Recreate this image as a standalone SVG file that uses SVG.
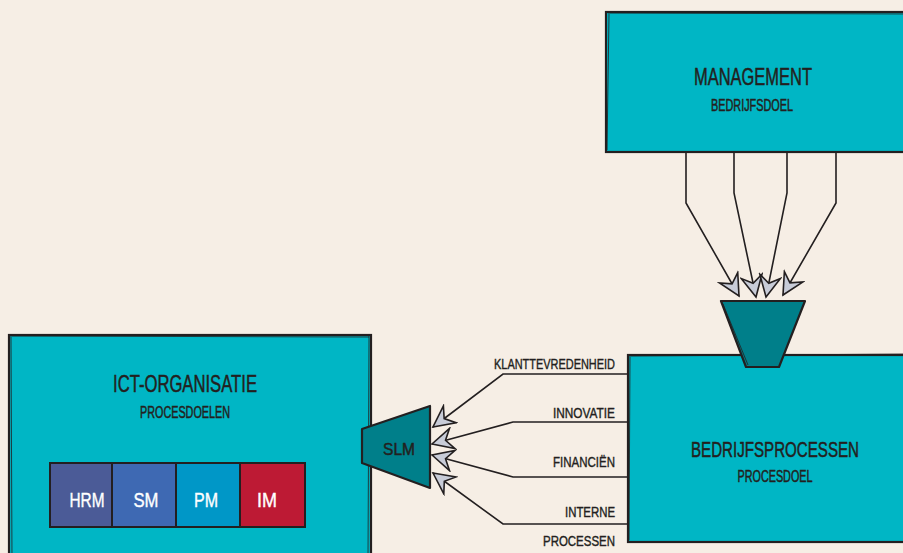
<svg xmlns="http://www.w3.org/2000/svg" width="903" height="553" viewBox="0 0 903 553">
<defs>
<style>
.box{fill:#00b6c5;stroke:#231f20;stroke-width:2.2}
.sk{fill:none;stroke:#231f20;stroke-width:1;opacity:.8}
.t{font-family:"Liberation Sans",Arial,sans-serif;fill:#231f20;stroke:#231f20;stroke-width:0.5;text-anchor:middle}
.w{font-family:"Liberation Sans",Arial,sans-serif;fill:#ffffff;stroke:#ffffff;stroke-width:0.4;text-anchor:middle}
.lbl{font-family:"Liberation Sans",Arial,sans-serif;fill:#231f20;stroke:#231f20;stroke-width:0.4;text-anchor:end;font-size:15px}
.con{fill:none;stroke:#231f20;stroke-width:1.6}
.funnel{fill:#007f8a;stroke:#231f20;stroke-width:2.2;stroke-linejoin:round}
</style>
<marker id="ah" markerUnits="userSpaceOnUse" viewBox="-23 -12 25 24" refX="0" refY="0" markerWidth="25" markerHeight="24" orient="auto">
<path d="M0,0 L-21,-10.5 L-14,0 L-21,10.5 Z" fill="#c8ccd8" stroke="#231f20" stroke-width="1.6" stroke-linejoin="miter"/>
</marker>
</defs>
<rect width="903" height="553" fill="#f6eee5"/>

<g id="management">
<rect class="box" x="606" y="12" width="310" height="140"/>
<path class="sk" d="M609,14 L607,150 M608,13 L910,14"/>
<text class="t" x="753" y="85" font-size="24" textLength="118" lengthAdjust="spacingAndGlyphs">MANAGEMENT</text>
<text class="t" x="752" y="111" font-size="16" textLength="82" lengthAdjust="spacingAndGlyphs">BEDRIJFSDOEL</text>
</g>

<g id="bedrijfsprocessen">
<rect class="box" x="628" y="355" width="290" height="187"/>
<path class="sk" d="M630,357 L629,540 M629,356 L910,354"/>
<text class="t" x="775" y="457" font-size="22" textLength="168" lengthAdjust="spacingAndGlyphs">BEDRIJFSPROCESSEN</text>
<text class="t" x="775" y="482" font-size="16" textLength="75" lengthAdjust="spacingAndGlyphs">PROCESDOEL</text>
</g>

<g id="ict-organisatie">
<rect class="box" x="9" y="335" width="362" height="230"/>
<path class="sk" d="M11,337 L12,560 M10,336 L369,337 M369,336 L368,560"/>
<text class="t" x="185" y="392" font-size="24" textLength="144" lengthAdjust="spacingAndGlyphs">ICT-ORGANISATIE</text>
<text class="t" x="185" y="418" font-size="16" textLength="90" lengthAdjust="spacingAndGlyphs">PROCESDOELEN</text>
</g>

<g id="hrm">
<rect x="50" y="463" width="62" height="64" fill="#4b5b97" stroke="#231f20" stroke-width="2"/>
<text class="w" x="87" y="507" font-size="20" textLength="35" lengthAdjust="spacingAndGlyphs">HRM</text>
</g>
<g id="sm">
<rect x="112" y="463" width="64" height="64" fill="#3e69b3" stroke="#231f20" stroke-width="2"/>
<text class="w" x="146" y="507" font-size="20" textLength="25" lengthAdjust="spacingAndGlyphs">SM</text>
</g>
<g id="pm">
<rect x="176" y="463" width="64" height="64" fill="#0097c7" stroke="#231f20" stroke-width="2"/>
<text class="w" x="206" y="507" font-size="20" textLength="24" lengthAdjust="spacingAndGlyphs">PM</text>
</g>
<g id="im">
<rect x="240" y="463" width="65" height="64" fill="#bd1a34" stroke="#231f20" stroke-width="2"/>
<text class="w" x="267" y="507" font-size="20" textLength="20" lengthAdjust="spacingAndGlyphs">IM</text>
</g>

<g id="funnel">
<polygon class="funnel" points="721,301 805,301 779,367 746,367"/>
<path class="sk" d="M723,304 L748,365"/>
</g>

<g id="slm">
<polygon class="funnel" points="362,429 430,406 430,488 362,463"/>
<text class="t" x="399" y="455" font-size="17" textLength="32" lengthAdjust="spacingAndGlyphs">SLM</text>
</g>

<g id="connectors">
<polyline class="con" marker-end="url(#ah)" points="686,152 686,203 739,296"/>
<polyline class="con" marker-end="url(#ah)" points="734,152 734,193 756,297"/>
<polyline class="con" marker-end="url(#ah)" points="787,152 787,193 766,297"/>
<polyline class="con" marker-end="url(#ah)" points="836,152 836,203 783,295"/>
<polyline class="con" marker-end="url(#ah)" points="628,374 503,374 433,427"/>
<polyline class="con" marker-end="url(#ah)" points="628,422 513,422 432,444"/>
<polyline class="con" marker-end="url(#ah)" points="628,477 513,477 432,455"/>
<polyline class="con" marker-end="url(#ah)" points="628,524 503,524 433,473"/>
<text class="lbl" x="615" y="369" textLength="121" lengthAdjust="spacingAndGlyphs">KLANTTEVREDENHEID</text>
<text class="lbl" x="615" y="418" textLength="62" lengthAdjust="spacingAndGlyphs">INNOVATIE</text>
<text class="lbl" x="615" y="467" textLength="62" lengthAdjust="spacingAndGlyphs">FINANCIËN</text>
<text class="lbl" x="615" y="517" textLength="50" lengthAdjust="spacingAndGlyphs">INTERNE</text>
<text class="lbl" x="615" y="546" textLength="72" lengthAdjust="spacingAndGlyphs">PROCESSEN</text>
</g>
</svg>
